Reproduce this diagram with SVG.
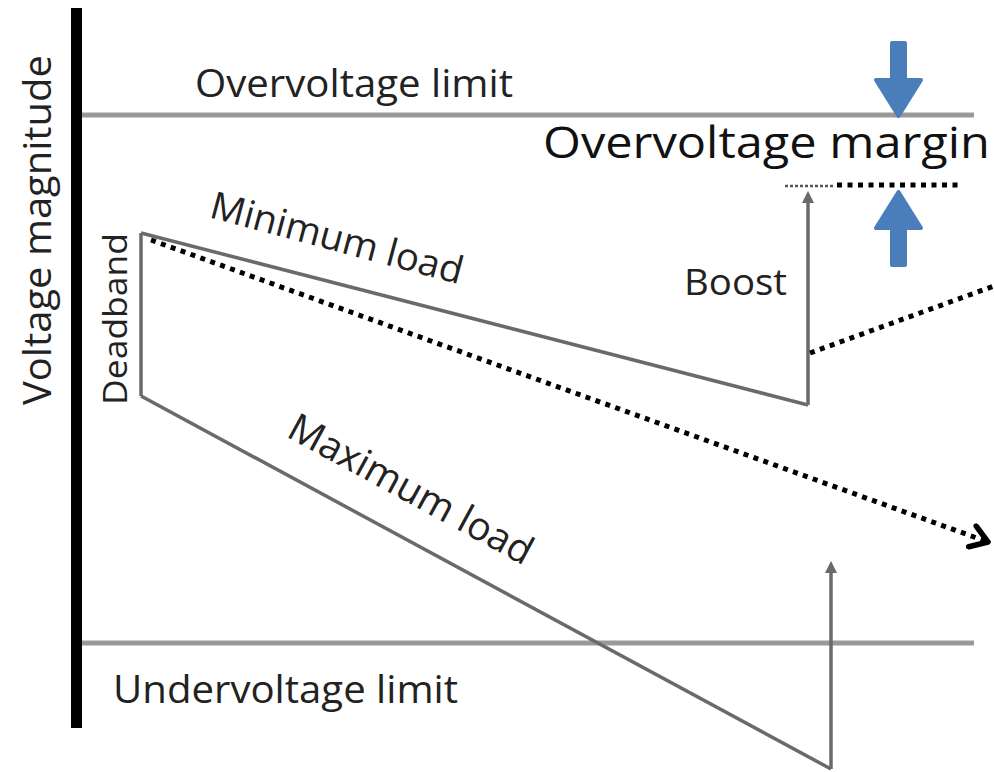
<svg xmlns="http://www.w3.org/2000/svg" width="994" height="772" viewBox="0 0 994 772">
  <defs>
    <style>
      .lbl { font-family: "Open Sans", "Liberation Sans", sans-serif; fill: #222; font-weight: 500; }
      .limit { stroke: #999; stroke-width: 5; fill: none; }
      .trace { stroke: #6a6a6a; stroke-width: 3.5; fill: none; }
      .dots { stroke: #000; stroke-width: 5; stroke-dasharray: 5 5.5; fill: none; }
      .blue { fill: #4a7ebb; stroke: #4a7ebb; stroke-width: 4; stroke-linejoin: round; }
    </style>
    <marker id="tip" viewBox="0 0 10 10" refX="5" refY="5" markerWidth="3.5" markerHeight="3.5" orient="auto-start-reverse" markerUnits="strokeWidth">
      <path d="M0,0 L10,5 L0,10 Z" fill="#6a6a6a"/>
    </marker>
    <marker id="chev" viewBox="0 0 20 20" refX="16" refY="10" markerWidth="5.5" markerHeight="5.5" orient="auto" markerUnits="strokeWidth">
      <path d="M4,2 L16,10 L4,18" fill="none" stroke="#000" stroke-width="4" stroke-linecap="round" stroke-linejoin="round"/>
    </marker>
  </defs>
  <rect width="994" height="772" fill="#fff"/>

  <g id="axis">
    <line x1="76.5" y1="8" x2="76.5" y2="728" stroke="#000" stroke-width="11"/>
    <text class="lbl" transform="translate(51,405) rotate(-90)" font-size="38" textLength="350" lengthAdjust="spacingAndGlyphs">Voltage magnitude</text>
  </g>

  <g id="overvoltage-limit">
    <line class="limit" x1="82" y1="115" x2="974" y2="115"/>
    <text class="lbl" x="195" y="97" font-size="38" textLength="318" lengthAdjust="spacingAndGlyphs">Overvoltage limit</text>
  </g>

  <g id="undervoltage-limit">
    <line class="limit" x1="82" y1="643" x2="974" y2="643"/>
    <text class="lbl" x="113" y="703" font-size="39" textLength="345" lengthAdjust="spacingAndGlyphs">Undervoltage limit</text>
  </g>

  <g id="deadband">
    <line class="trace" x1="141" y1="233" x2="141" y2="396"/>
    <text class="lbl" transform="translate(127,405) rotate(-90)" font-size="33" textLength="172" lengthAdjust="spacingAndGlyphs">Deadband</text>
  </g>

  <g id="minimum-load">
    <line class="trace" x1="141" y1="233" x2="808" y2="405"/>
    <text class="lbl" transform="translate(208,217) rotate(15)" font-size="38" textLength="260" lengthAdjust="spacingAndGlyphs">Minimum load</text>
  </g>

  <g id="boost">
    <line class="trace" x1="808" y1="405" x2="808" y2="197" marker-end="url(#tip)"/>
    <text class="lbl" x="684" y="295" font-size="37" textLength="103" lengthAdjust="spacingAndGlyphs">Boost</text>
  </g>

  <g id="maximum-load">
    <line class="trace" x1="141" y1="396" x2="831" y2="769"/>
    <line class="trace" x1="831" y1="769" x2="831" y2="567" marker-end="url(#tip)"/>
    <text class="lbl" transform="translate(285,436) rotate(28.5)" font-size="39" textLength="272" lengthAdjust="spacingAndGlyphs">Maximum load</text>
  </g>

  <g id="overvoltage-margin">
    <text x="543" y="158" font-family="Open Sans, Liberation Sans, sans-serif" font-size="44" fill="#111" textLength="447" lengthAdjust="spacingAndGlyphs">Overvoltage margin</text>
    <path class="blue" d="M892,43 H905 V80 H921 L898.5,116 L876,80 H892 Z"/>
    <path class="blue" d="M892,265 H905 V228 H921 L898.5,192 L876,228 H892 Z"/>
  </g>

  <g id="connectors">
    <line x1="785" y1="186" x2="835" y2="186" stroke="#555" stroke-width="2.5" stroke-dasharray="3 2"/>
    <line class="dots" x1="837" y1="185" x2="958" y2="185"/>
    <line class="dots" x1="151" y1="240" x2="988" y2="542" marker-end="url(#chev)"/>
    <line class="dots" x1="810" y1="353" x2="994" y2="286"/>
  </g>
</svg>
